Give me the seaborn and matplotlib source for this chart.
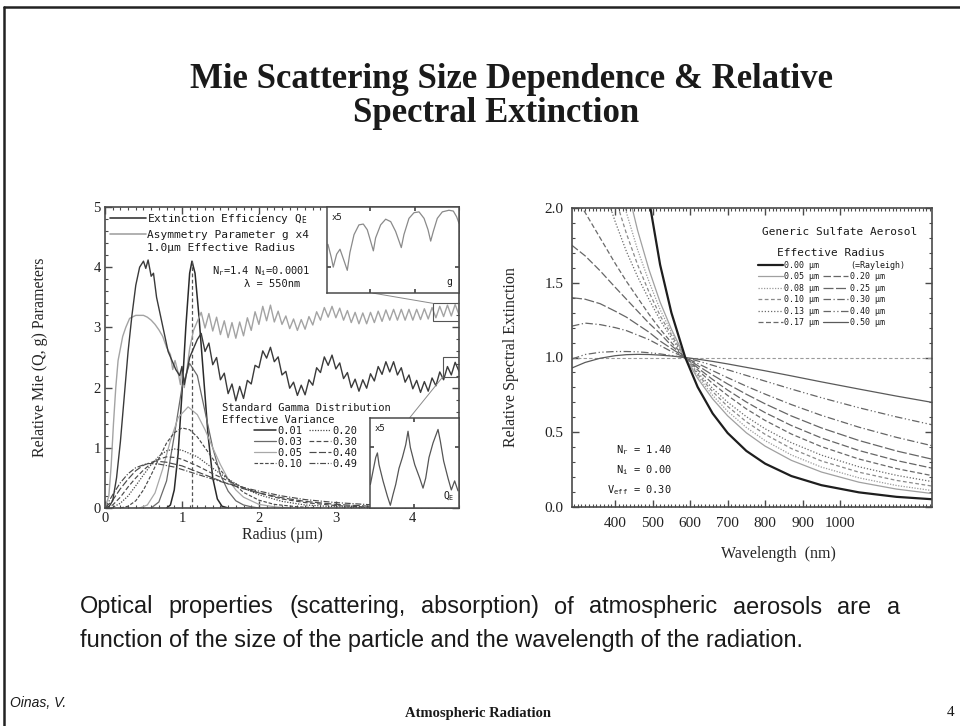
import numpy as np
import matplotlib
matplotlib.use("Agg")
import matplotlib.pyplot as plt
import seaborn as sns
from matplotlib.lines import Line2D
from matplotlib.patches import Rectangle
from matplotlib.ticker import MultipleLocator

# ======================= DATA =======================
TITLE_LINES = ["Mie Scattering Size Dependence & Relative", "Spectral Extinction"]
BODY_LINES = ["Optical properties (scattering, absorption) of atmospheric aerosols are a",
              "function of the size of the particle and the wavelength of the radiation."]
FOOTER_LEFT = "Oinas, V."
FOOTER_CENTER = "Atmospheric Radiation"
FOOTER_RIGHT = "4"

# --- left panel: Mie Q_E and 4*g versus radius (um) ---
Q_R_EARLY = [0.00, 0.05, 0.10, 0.15, 0.20, 0.25, 0.30, 0.35, 0.40, 0.45,
             0.50, 0.53, 0.56, 0.60, 0.63, 0.67, 0.72, 0.77, 0.82, 0.87,
             0.92, 0.97, 1.00, 1.03, 1.07, 1.10, 1.15, 1.20]
Q_EARLY = [0.0, 0.02, 0.12, 0.5, 1.1, 1.85, 2.6, 3.2, 3.7, 4.0,
           4.1, 3.98, 4.12, 3.85, 3.9, 3.5, 3.2, 2.9, 2.6, 2.45,
           2.3, 2.2, 2.35, 2.05, 2.3, 2.5, 2.65, 2.8]
G_R_EARLY = [0.00, 0.05, 0.08, 0.11, 0.14, 0.17, 0.20, 0.23, 0.27, 0.32,
             0.40, 0.50, 0.55, 0.60, 0.65, 0.70, 0.75, 0.80, 0.85, 0.88,
             0.91, 0.95, 0.98, 1.00, 1.03, 1.06, 1.10, 1.15, 1.20]
G4_EARLY = [0.0, 0.2, 0.7, 1.4, 2.0, 2.45, 2.65, 2.85, 3.0, 3.15,
            3.2, 3.2, 3.17, 3.12, 3.05, 2.96, 2.85, 2.67, 2.55, 2.3,
            2.45, 2.25, 2.05, 2.35, 2.0, 2.25, 2.65, 2.95, 3.1]
RIPPLE_R = np.round(np.arange(1.25, 4.6001, 0.05), 2)
Q_RIPPLE = [2.90, 2.60, 2.74, 2.38, 2.50, 2.13, 2.24, 1.90, 2.06, 1.78,
            2.02, 1.82, 2.12, 2.06, 2.37, 2.33, 2.61, 2.49, 2.67, 2.43,
            2.51, 2.21, 2.27, 1.99, 2.09, 1.87, 2.04, 1.88, 2.13, 2.04,
            2.33, 2.25, 2.51, 2.37, 2.54, 2.31, 2.41, 2.15, 2.25, 2.00,
            2.14, 1.94, 2.13, 1.99, 2.23, 2.11, 2.35, 2.22, 2.43, 2.26,
            2.43, 2.21, 2.33, 2.09, 2.21, 1.98, 2.12, 1.92, 2.10, 1.94,
            2.16, 2.03, 2.26, 2.13, 2.35, 2.21, 2.42, 2.27]
G4_RIPPLE = [3.25, 2.99, 3.23, 2.94, 3.17, 2.88, 3.11, 2.83, 3.08, 2.82,
             3.09, 2.86, 3.16, 2.95, 3.26, 3.05, 3.35, 3.11, 3.37, 3.09,
             3.27, 3.05, 3.19, 2.98, 3.14, 2.95, 3.13, 2.97, 3.18, 3.04,
             3.26, 3.12, 3.33, 3.17, 3.35, 3.16, 3.32, 3.12, 3.28, 3.08,
             3.25, 3.06, 3.24, 3.06, 3.25, 3.08, 3.27, 3.10, 3.29, 3.12,
             3.30, 3.12, 3.30, 3.12, 3.30, 3.12, 3.30, 3.13, 3.31, 3.14,
             3.33, 3.16, 3.35, 3.18, 3.37, 3.19, 3.38, 3.21]

# --- left panel: standard gamma size distributions (r_eff = 1.0 um) ---
DIST_VARIANCES = ["0.01", "0.03", "0.05", "0.10", "0.20", "0.30", "0.40", "0.49"]
DIST_R = [
    [0.80, 0.85, 0.90, 0.95, 1.00, 1.05, 1.10, 1.13, 1.17, 1.22, 1.28, 1.34, 1.40, 1.46, 1.52, 1.60],
    [0.60, 0.70, 0.80, 0.90, 1.00, 1.10, 1.20, 1.30, 1.40, 1.50, 1.60, 1.70, 1.80, 1.90, 2.00],
    [0.45, 0.55, 0.65, 0.75, 0.85, 0.95, 1.08, 1.20, 1.30, 1.40, 1.50, 1.60, 1.70, 1.80, 2.00, 2.20, 2.40],
    [0.20, 0.30, 0.40, 0.50, 0.60, 0.70, 0.80, 0.90, 1.00, 1.10, 1.20, 1.30, 1.40, 1.50, 1.60, 1.80, 2.00, 2.20, 2.50, 2.80],
    [0.05, 0.10, 0.20, 0.30, 0.40, 0.50, 0.60, 0.70, 0.80, 0.90, 1.00, 1.20, 1.40, 1.60, 1.80, 2.00, 2.30, 2.60, 3.00, 3.50],
    [0.00, 0.10, 0.20, 0.30, 0.40, 0.50, 0.60, 0.70, 0.80, 0.90, 1.00, 1.20, 1.40, 1.60, 1.80, 2.00, 2.30, 2.60, 3.00, 3.50, 4.00],
    [0.00, 0.10, 0.20, 0.30, 0.40, 0.50, 0.65, 0.80, 1.00, 1.20, 1.40, 1.60, 1.80, 2.00, 2.30, 2.60, 3.00, 3.50, 4.00, 4.60],
    [0.00, 0.10, 0.20, 0.30, 0.40, 0.55, 0.70, 0.90, 1.10, 1.30, 1.50, 1.70, 2.00, 2.30, 2.60, 3.00, 3.50, 4.00, 4.60],
]
DIST_N = [
    [0.0, 0.05, 0.3, 0.9, 1.9, 3.0, 3.9, 4.1, 3.9, 3.2, 2.2, 1.2, 0.5, 0.15, 0.03, 0.0],
    [0.0, 0.1, 0.45, 1.2, 2.0, 2.4, 2.2, 1.6, 1.0, 0.55, 0.28, 0.12, 0.05, 0.02, 0.0],
    [0.0, 0.05, 0.25, 0.65, 1.12, 1.5, 1.68, 1.55, 1.3, 1.0, 0.72, 0.48, 0.3, 0.18, 0.06, 0.02, 0.0],
    [0.0, 0.03, 0.12, 0.3, 0.55, 0.82, 1.08, 1.25, 1.33, 1.3, 1.18, 1.0, 0.82, 0.63, 0.48, 0.26, 0.13, 0.06, 0.02, 0.0],
    [0.0, 0.01, 0.08, 0.2, 0.37, 0.55, 0.72, 0.86, 0.95, 0.98, 0.96, 0.85, 0.66, 0.48, 0.33, 0.22, 0.11, 0.05, 0.02, 0.0],
    [0.0, 0.05, 0.18, 0.35, 0.5, 0.63, 0.74, 0.81, 0.85, 0.84, 0.81, 0.7, 0.57, 0.45, 0.34, 0.25, 0.15, 0.09, 0.04, 0.01, 0.0],
    [0.0, 0.13, 0.32, 0.48, 0.62, 0.71, 0.78, 0.76, 0.7, 0.6, 0.5, 0.4, 0.32, 0.25, 0.17, 0.11, 0.06, 0.025, 0.01, 0.0],
    [0.0, 0.22, 0.42, 0.57, 0.67, 0.74, 0.73, 0.68, 0.6, 0.52, 0.44, 0.37, 0.28, 0.2, 0.14, 0.09, 0.05, 0.025, 0.01],
]
REFF_MARK = 1.13      # radius of the vertical dashed marker
REFF_PEAK = 4.1       # top of the marker

# --- left panel insets (x5 magnifications, inset-local units 0..100) ---
INSET_G_X = [1.0, 3.5, 5.0, 7.6, 10.1, 13.1, 15.6, 17.6, 20.7, 24.4, 27.7, 30.7, 33.2, 35.3,
             37.0, 40.8, 44.6, 48.4, 52.1, 54.7, 56.4, 58.4, 62.2, 66.0, 69.8, 73.6, 76.6,
             78.6, 80.6, 83.6, 87.4, 92.4, 95.7, 98.2, 100.0]
INSET_G_Y = [58, 42, 30, 46, 52, 38, 26, 48, 70, 82, 83, 76, 62, 50,
             66, 82, 89, 86, 74, 62, 54, 70, 90, 97, 98, 90, 76,
             62, 74, 90, 98, 100, 99, 92, 84]
INSET_Q_X = [0.7, 3.7, 6.7, 8.6, 10.4, 14.9, 19.8, 23.1, 26.1, 29.1, 32.8, 36.6, 40.3, 42.9,
             45.5, 50.4, 56.0, 59.7, 62.7, 66.4, 70.9, 76.5, 79.1, 82.8, 87.7, 91.4, 95.1, 98.9]
INSET_Q_Y = [26, 41, 56, 61, 48, 30, 13, 3, 15, 26, 44, 56, 70, 85,
             67, 48, 33, 22, 33, 56, 72, 87, 74, 52, 33, 20, 30, 19]
# inset placement [r0, y0, width, height] and magnified boxes [r0, y0, w, h]
INSET_G_BOUNDS = [2.88, 3.57, 1.72, 1.43]
INSET_Q_BOUNDS = [3.44, 0.0, 1.16, 1.50]
BOX_G = [4.26, 3.10, 0.34, 0.30]
BOX_Q = [4.39, 2.18, 0.21, 0.32]
LINK_G = ([3.48, 4.26], [3.57, 3.40])
LINK_Q = ([4.39, 3.96], [2.18, 1.50])

# --- right panel: relative spectral extinction of generic sulfate aerosol ---
WAVELENGTH = [285, 320, 360, 400, 430, 460, 490, 520, 550, 587,
              620, 660, 700, 750, 800, 870, 950, 1050, 1150, 1245]
EFF_RADII = ["0.00", "0.05", "0.08", "0.10", "0.13", "0.17", "0.20", "0.25", "0.30", "0.40", "0.50"]
EXTINCTION = [
    [18.0, 11.3, 7.07, 4.64, 3.47, 2.65, 2.06, 1.62, 1.30, 1.0, 0.803, 0.626, 0.495, 0.375, 0.290, 0.207, 0.146, 0.098, 0.068, 0.052],
    [4.90, 3.98, 3.17, 2.54, 2.16, 1.85, 1.59, 1.37, 1.19, 1.0, 0.861, 0.723, 0.610, 0.496, 0.407, 0.312, 0.234, 0.166, 0.120, 0.090],
    [3.92, 3.31, 2.73, 2.27, 1.97, 1.72, 1.51, 1.32, 1.17, 1.0, 0.875, 0.747, 0.641, 0.532, 0.444, 0.348, 0.267, 0.195, 0.144, 0.110],
    [3.36, 2.89, 2.44, 2.07, 1.83, 1.62, 1.44, 1.28, 1.15, 1.0, 0.888, 0.772, 0.673, 0.570, 0.486, 0.391, 0.308, 0.233, 0.178, 0.140],
    [2.92, 2.56, 2.21, 1.91, 1.71, 1.54, 1.39, 1.25, 1.13, 1.0, 0.899, 0.793, 0.701, 0.604, 0.523, 0.430, 0.347, 0.269, 0.212, 0.170],
    [2.11, 1.97, 1.80, 1.63, 1.51, 1.40, 1.29, 1.19, 1.10, 1.0, 0.917, 0.826, 0.746, 0.656, 0.579, 0.488, 0.404, 0.321, 0.257, 0.210],
    [1.75, 1.68, 1.58, 1.47, 1.39, 1.31, 1.23, 1.16, 1.08, 1.0, 0.931, 0.853, 0.782, 0.702, 0.631, 0.545, 0.462, 0.378, 0.311, 0.260],
    [1.40, 1.39, 1.36, 1.31, 1.27, 1.22, 1.17, 1.11, 1.06, 1.0, 0.946, 0.883, 0.823, 0.754, 0.690, 0.609, 0.529, 0.445, 0.375, 0.320],
    [1.21, 1.23, 1.22, 1.20, 1.18, 1.15, 1.12, 1.08, 1.04, 1.0, 0.960, 0.912, 0.865, 0.808, 0.755, 0.685, 0.613, 0.534, 0.466, 0.410],
    [0.99, 1.02, 1.035, 1.04, 1.04, 1.038, 1.032, 1.024, 1.013, 1.0, 0.977, 0.948, 0.918, 0.880, 0.842, 0.789, 0.731, 0.664, 0.603, 0.550],
    [0.93, 0.967, 0.995, 1.012, 1.019, 1.021, 1.020, 1.016, 1.010, 1.0, 0.989, 0.974, 0.957, 0.934, 0.911, 0.877, 0.837, 0.789, 0.742, 0.700],
]
REF_LEVEL = 1.0

# ======================= STYLE =======================
sns.set_theme(style="ticks")
plt.rcParams.update({
    "font.family": ["Liberation Serif", "DejaVu Serif"],
    "mathtext.fontset": "custom",
    "mathtext.rm": "DejaVu Sans Mono",
    "mathtext.it": "DejaVu Sans Mono",
    "mathtext.bf": "DejaVu Sans Mono",
    "axes.edgecolor": "#4a4a4a",
    "axes.linewidth": 1.2,
    "xtick.color": "#4a4a4a",
    "ytick.color": "#4a4a4a",
    "xtick.labelcolor": "#222222",
    "ytick.labelcolor": "#222222",
    "text.color": "#1a1a1a",
})
MONO = ["DejaVu Sans Mono"]
SERIF = ["Liberation Serif", "DejaVu Serif"]
W, H = 960, 726


def fx(px):
    return px / W


def fy(py):
    return 1 - py / H


fig = plt.figure(figsize=(W / 100, H / 100), dpi=100)
fig.patch.set_facecolor("white")

# slide frame
fig.add_artist(Line2D([fx(4), fx(4)], [fy(7), 0], transform=fig.transFigure, color="#222222", lw=1.8))
fig.add_artist(Line2D([fx(4), 1], [fy(7), fy(7)], transform=fig.transFigure, color="#222222", lw=1.8))

# title
fig.text(fx(512), fy(79), TITLE_LINES[0], ha="center", va="center", fontsize=25,
         fontweight="bold", family=SERIF)
fig.text(fx(496), fy(114), TITLE_LINES[1], ha="center", va="center", fontsize=25,
         fontweight="bold", family=SERIF)

# ======================= LEFT PANEL =======================
axL = fig.add_axes([fx(105), fy(508), (459 - 105) / W, (508 - 207) / H])
q_r = list(Q_R_EARLY) + list(RIPPLE_R)
q_v = list(Q_EARLY) + list(Q_RIPPLE)
g_r = list(G_R_EARLY) + list(RIPPLE_R)
g_v = list(G4_EARLY) + list(G4_RIPPLE)

DIST_STYLES = [("-", "#2a2a2a", 1.1), ("-", "#6a6a6a", 0.9), ("-", "#a8a8a8", 0.9),
               ((0, (3, 1.5)), "#4a4a4a", 0.85), ((0, (1, 1.2)), "#4a4a4a", 0.9),
               ((0, (4, 2)), "#4a4a4a", 0.85), ((0, (6, 2)), "#4a4a4a", 0.85),
               ((0, (5, 1.5, 1, 1.5)), "#4a4a4a", 0.85)]
for r, n, (ls, c, lw) in zip(DIST_R, DIST_N, DIST_STYLES):
    sns.lineplot(x=r, y=n, ax=axL, color=c, lw=lw, linestyle=ls, estimator=None,
                 sort=False, legend=False)
axL.vlines(REFF_MARK, 0, REFF_PEAK, colors="#555555", linestyles=(0, (3, 2)), lw=0.9)

sns.lineplot(x=g_r, y=g_v, ax=axL, color="#a3a3a3", lw=1.0, estimator=None, sort=False, legend=False)
sns.lineplot(x=q_r, y=q_v, ax=axL, color="#3a3a3a", lw=1.0, estimator=None, sort=False, legend=False)

axL.set_xlim(0, 4.6)
axL.set_ylim(0, 5)
axL.set_xticks([0, 1, 2, 3, 4])
axL.set_yticks([0, 1, 2, 3, 4, 5])
axL.xaxis.set_minor_locator(MultipleLocator(0.1))
axL.yaxis.set_minor_locator(MultipleLocator(0.2))
axL.tick_params(which="both", direction="in", top=True, right=True, labelsize=10.5)
axL.tick_params(which="major", length=5, width=1.0, pad=3)
axL.tick_params(which="minor", length=2.5, width=0.8)
axL.set_xlabel("Radius (µm)", fontsize=11.5, family=SERIF)
axL.set_ylabel("Relative Mie (Q, g) Parameters", fontsize=11.5, family=SERIF)
axL.xaxis.set_label_coords(0.50, -0.062)
axL.yaxis.set_label_coords(-0.16, 0.5)

# legend 1: curves
h1 = [Line2D([], [], color="#3a3a3a", lw=1.2), Line2D([], [], color="#a3a3a3", lw=1.2),
      Line2D([], [], lw=0, alpha=0)]
leg1 = axL.legend(h1, ["Extinction Efficiency Q$_\\mathrm{E}$", "Asymmetry Parameter g x4",
                       "1.0µm Effective Radius"],
                  loc="upper left", bbox_to_anchor=(0.0, 1.0), frameon=False,
                  prop={"family": MONO, "size": 8}, handlelength=3.2, handletextpad=0.15,
                  labelspacing=0.32, borderaxespad=0.15, borderpad=0.3)
axL.add_artist(leg1)
axL.text((310 - 105) / 354, (508 - 271) / 301, "N$_\\mathrm{r}$=1.4 N$_\\mathrm{i}$=0.0001",
         transform=axL.transAxes, ha="right", va="center", family=MONO, fontsize=7.5)
axL.text((300 - 105) / 354, (508 - 284) / 301, "λ = 550nm",
         transform=axL.transAxes, ha="right", va="center", family=MONO, fontsize=7.5)

# legend 2: gamma distributions
h2 = [Line2D([], [], color=c, lw=lw, linestyle=ls) for (ls, c, lw) in DIST_STYLES]
leg2 = axL.legend(h2, DIST_VARIANCES, ncol=2, title="Standard Gamma Distribution\nEffective Variance",
                  loc="upper center", bbox_to_anchor=((306 - 105) / 354, (508 - 397) / 301),
                  frameon=False, prop={"family": MONO, "size": 7.5},
                  title_fontproperties={"family": MONO, "size": 7.5},
                  handlelength=2.1, handletextpad=0.15, columnspacing=0.6,
                  labelspacing=0.1, borderpad=0.1)

# magnified boxes and links
for bx in (BOX_G, BOX_Q):
    axL.add_patch(Rectangle((bx[0], bx[1]), bx[2], bx[3], fill=False, ec="#555555", lw=0.8, zorder=5))
axL.plot(*LINK_G, color="#8a8a8a", lw=0.7, zorder=5)
axL.plot(*LINK_Q, color="#8a8a8a", lw=0.7, zorder=5)

# insets
axTI = axL.inset_axes(INSET_G_BOUNDS, transform=axL.transData, zorder=6)
sns.lineplot(x=INSET_G_X, y=INSET_G_Y, ax=axTI, color="#8a8a8a", lw=0.9, estimator=None,
             sort=False, legend=False)
axTI.set_xlim(0, 100)
axTI.set_ylim(-2, 104)
axTI.set_xticks([33, 67])
axTI.set_yticks([30])
axTI.text(0.04, 0.93, "x5", transform=axTI.transAxes, ha="left", va="top", family=MONO, fontsize=6.5)
axTI.text(0.95, 0.07, "g", transform=axTI.transAxes, ha="right", va="bottom", family=MONO, fontsize=7)

axBI = axL.inset_axes(INSET_Q_BOUNDS, transform=axL.transData, zorder=6)
sns.lineplot(x=INSET_Q_X, y=INSET_Q_Y, ax=axBI, color="#555555", lw=0.9, estimator=None,
             sort=False, legend=False)
axBI.set_xlim(0, 100)
axBI.set_ylim(0, 100)
axBI.set_xticks([50])
axBI.set_yticks([67])
axBI.text(0.05, 0.93, "x5", transform=axBI.transAxes, ha="left", va="top", family=MONO, fontsize=6.5)
axBI.text(0.95, 0.06, "Q$_\\mathrm{E}$", transform=axBI.transAxes, ha="right", va="bottom",
          family=MONO, fontsize=7)
for a in (axTI, axBI):
    a.set_facecolor("white")
    a.tick_params(which="both", direction="in", top=True, right=True, length=3,
                  labelbottom=False, labelleft=False)
    for s in a.spines.values():
        s.set_color("#4a4a4a")
        s.set_linewidth(1.1)
    a.set_xlabel("")
    a.set_ylabel("")

# ======================= RIGHT PANEL =======================
axR = fig.add_axes([fx(572), fy(507), (932 - 572) / W, (507 - 208) / H])
EXT_STYLES = [("-", "#1e1e1e", 1.6), ("-", "#a0a0a0", 0.9), ((0, (1, 1.2)), "#9a9a9a", 0.9),
              ((0, (3, 2)), "#8a8a8a", 0.9), ((0, (1, 1.5)), "#6a6a6a", 0.9),
              ((0, (4, 2)), "#6a6a6a", 0.9), ((0, (6, 2)), "#666666", 0.9),
              ((0, (8, 2)), "#666666", 0.9), ((0, (6, 2, 1, 2)), "#666666", 0.9),
              ((0, (6, 2, 1, 2, 1, 2)), "#666666", 0.9), ("-", "#5a5a5a", 0.9)]
axR.axhline(REF_LEVEL, color="#9a9a9a", lw=0.8, linestyle=(0, (3, 2)))
for ext, (ls, c, lw) in zip(EXTINCTION[::-1], EXT_STYLES[::-1]):
    sns.lineplot(x=WAVELENGTH, y=ext, ax=axR, color=c, lw=lw, linestyle=ls, estimator=None,
                 sort=False, legend=False)

axR.set_xlim(285, 1245)
axR.set_ylim(0, 2.0)
axR.set_xticks([400, 500, 600, 700, 800, 900, 1000])
axR.set_yticks([0.0, 0.5, 1.0, 1.5, 2.0])
axR.set_yticklabels(["0.0", "0.5", "1.0", "1.5", "2.0"])
axR.xaxis.set_minor_locator(MultipleLocator(10))
axR.yaxis.set_minor_locator(MultipleLocator(0.1))
axR.tick_params(which="both", direction="in", top=True, right=True, labelsize=11)
axR.tick_params(axis="x", which="major", length=5, width=1.0, pad=7)
axR.tick_params(axis="y", which="major", length=5, width=1.0, pad=6)
axR.tick_params(which="minor", length=2.5, width=0.8)
axR.set_xlabel("Wavelength  (nm)", fontsize=11.5, family=SERIF)
axR.set_ylabel("Relative Spectral Extinction", fontsize=11.5, family=SERIF)
axR.xaxis.set_label_coords((778 - 572) / 360, -0.13)
axR.yaxis.set_label_coords(-0.148, 0.5)

axR.text((917 - 572) / 360, (507 - 232) / 299, "Generic Sulfate Aerosol", transform=axR.transAxes,
         ha="right", va="center", family=MONO, fontsize=8)
order = [0, 1, 2, 3, 4, 5, None, 6, 7, 8, 9, 10]
hR, lR = [], []
for i in order:
    if i is None:
        hR.append(Line2D([], [], lw=0, alpha=0))
        lR.append("(=Rayleigh)")
    else:
        ls, c, lw = EXT_STYLES[i]
        hR.append(Line2D([], [], color=c, lw=lw, linestyle=ls))
        lR.append(f"{EFF_RADII[i]} µm")
legR = axR.legend(hR, lR, ncol=2, title="Effective Radius", loc="upper right",
                  bbox_to_anchor=((910 - 572) / 360, (507 - 243) / 299), frameon=False,
                  prop={"family": MONO, "size": 6}, title_fontproperties={"family": MONO, "size": 8},
                  handlelength=3.0, handletextpad=0.2, columnspacing=0.5, labelspacing=0.3,
                  borderpad=0.1)
axR.text((672 - 572) / 360, (507 - 470) / 299,
         "N$_\\mathrm{r}$ = 1.40\nN$_\\mathrm{i}$ = 0.00\nV$_\\mathrm{eff}$ = 0.30",
         transform=axR.transAxes, ha="right", va="center", multialignment="right",
         family=MONO, fontsize=7.5, linespacing=1.6)

# ======================= BODY TEXT =======================
fig.canvas.draw()
renderer = fig.canvas.get_renderer()
body_font = {"family": ["Liberation Sans", "DejaVu Sans"], "fontsize": 14}
probe = fig.text(0, 0, BODY_LINES[1], **body_font)
w2 = probe.get_window_extent(renderer).width
probe.remove()
fs = 14 * (725 / w2)
body_font["fontsize"] = fs
words = BODY_LINES[0].split()
wt = [fig.text(0, fy(607), w, va="center", **body_font) for w in words]
widths = [t.get_window_extent(renderer).width for t in wt]
gap = (900 - 80 - sum(widths)) / (len(words) - 1)
xpos = 80
for t, wd in zip(wt, widths):
    t.set_x(fx(xpos))
    xpos += wd + gap
fig.text(fx(80), fy(641), BODY_LINES[1], va="center", **body_font)

# footer
fig.text(fx(10), fy(703), FOOTER_LEFT, ha="left", va="center", style="italic", fontsize=10,
         family=["Liberation Sans Narrow", "Liberation Sans"])
fig.text(fx(478), fy(713), FOOTER_CENTER, ha="center", va="center", fontweight="bold",
         fontsize=10.5, family=SERIF)
fig.text(fx(951), fy(713), FOOTER_RIGHT, ha="center", va="center", fontsize=11, family=SERIF)

fig.savefig("out.png", dpi=100, facecolor="white")
